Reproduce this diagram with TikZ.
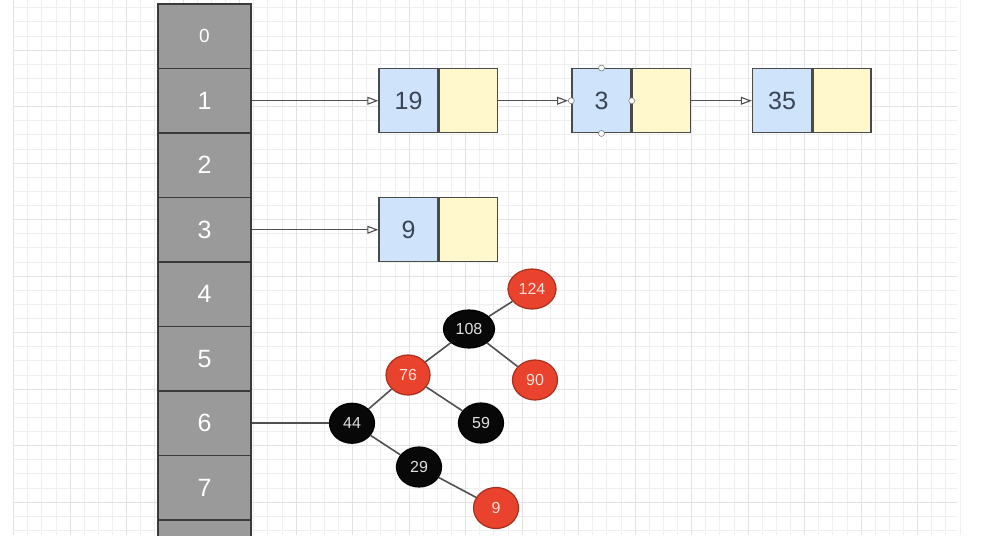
\documentclass[tikz,border=0pt]{standalone}
\usepackage{fontspec}
\setmainfont{Liberation Sans}
\usetikzlibrary{shapes.geometric,arrows.meta}
\definecolor{gridminor}{HTML}{EFEFEF}
\definecolor{gridmajor}{HTML}{E2E2E2}
\definecolor{bucketfill}{HTML}{9A9A9A}
\definecolor{bucketline}{HTML}{3A3A3A}
\definecolor{valfill}{HTML}{CFE4FB}
\definecolor{ptrfill}{HTML}{FFF8CC}
\definecolor{boxline}{HTML}{4A4A4A}
\definecolor{listtext}{HTML}{3A4454}
\definecolor{rbred}{HTML}{E9432D}
\definecolor{rbredline}{HTML}{A8301F}
\definecolor{rbredtext}{HTML}{FDE2DA}
\definecolor{rbblack}{HTML}{080808}
\definecolor{edgecol}{HTML}{505050}
\tikzset{
  bucket/.style={draw=bucketline, line width=1.4pt, fill=bucketfill, minimum width=93pt, minimum height=64.5pt, inner sep=0pt, text=white, font=\fontsize{25}{25}\selectfont},
  valbox/.style={draw=boxline, line width=1.4pt, fill=valfill, minimum width=59pt, minimum height=64pt, inner sep=0pt, text=listtext, font=\fontsize{25}{25}\selectfont},
  ptrbox/.style={draw=boxline, line width=1.4pt, fill=ptrfill, minimum width=58pt, minimum height=64pt, inner sep=0pt},
  arr/.style={draw=edgecol, line width=1.1pt, -{Triangle[open, length=11pt, width=8pt, fill=white]}},
  handle/.style={circle, draw=gray, fill=white, line width=0.6pt, minimum size=6pt, inner sep=0pt},
  rbnode/.style={ellipse, minimum width=45pt, minimum height=40pt, inner sep=0pt, line width=1.2pt, font=\fontsize{16}{16}\selectfont},
  rednode/.style={rbnode, fill=rbred, draw=rbredline, text=rbredtext},
  blacknode/.style={rbnode, fill=rbblack, draw=black, text=white!88!black},
  treeedge/.style={draw=edgecol, line width=1.6pt},
  minorline/.style={draw=gridminor, line width=0.6pt},
  majorline/.style={draw=gridmajor, line width=0.9pt}
}
\begin{document}
\begin{tikzpicture}[x=1pt,y=-1pt]
\useasboundingbox (0,0) rectangle (981,535);
\clip (0,0) rectangle (981,535);
\fill[white] (0,0) rectangle (981,535);
% grid
\foreach \k in {0,...,67} {
  \draw[minorline] ({13.5+\k*14.125},0) -- ({13.5+\k*14.125},535);
}
\foreach \k in {-3,...,34} {
  \draw[minorline] (13.5,{50+\k*14.125}) -- (957,{50+\k*14.125});
}
\foreach \k in {0,...,16} {
  \draw[majorline] ({13.5+\k*56.5},0) -- ({13.5+\k*56.5},535);
}
\foreach \k in {-1,...,8} {
  \draw[majorline] (13.5,{50+\k*56.5}) -- (957,{50+\k*56.5});
}
% buckets
\node[bucket, font=\fontsize{19}{19}\selectfont] (b0) at (204.5,36.25) {0};
\node[bucket] (b1) at (204.5,100.75) {1};
\node[bucket] (b2) at (204.5,165.25) {2};
\node[bucket] (b3) at (204.5,229.75) {3};
\node[bucket] (b4) at (204.5,294.25) {4};
\node[bucket] (b5) at (204.5,358.75) {5};
\node[bucket] (b6) at (204.5,423.25) {6};
\node[bucket] (b7) at (204.5,487.75) {7};
\node[bucket] (b8) at (204.5,552.25) {};
% list nodes
\node[valbox] (v19) at (408.5,100.75) {19};
\node[ptrbox, anchor=west] (p19) at (v19.east) {};
\node[valbox] (v3) at (601.5,100.75) {3};
\node[ptrbox, anchor=west] (p3) at (v3.east) {};
\node[valbox] (v35) at (782,100.75) {35};
\node[ptrbox, anchor=west] (p35) at (v35.east) {};
\node[valbox] (v9) at (408.5,229.75) {9};
\node[ptrbox, anchor=west] (p9) at (v9.east) {};
% handles
\node[handle] (h1) at (v3.north) {};
\node[handle] (h2) at (v3.south) {};
\node[handle] (h3) at (v3.west) {};
\node[handle] (h4) at (v3.east) {};
% arrows
\draw[arr] (b1.east) -- (v19.west);
\draw[arr] (p19.east) -- (h3.west);
\draw[arr] (p3.east) -- (v35.west);
\draw[arr] (b3.east) -- (v9.west);
% tree
\node[rednode, minimum width=48pt] (t124) at (532,289) {124};
\node[blacknode, minimum width=51pt, minimum height=38pt] (t108) at (469,329) {108};
\node[rednode, minimum width=44pt] (t76) at (408,375) {76};
\node[rednode] (t90) at (535,380) {90};
\node[blacknode] (t44) at (352,423.25) {44};
\node[blacknode] (t59) at (481,423) {59};
\node[blacknode] (t29) at (419,467) {29};
\node[rednode, minimum height=41pt] (t9) at (496,508) {9};
\draw[treeedge] (b6.east) -- (t44.west);
\draw[treeedge] (t108) -- (t124);
\draw[treeedge] (t108) -- (t76);
\draw[treeedge] (t108) -- (t90);
\draw[treeedge] (t76) -- (t44);
\draw[treeedge] (t76) -- (t59);
\draw[treeedge] (t44) -- (t29);
\draw[treeedge] (t29) -- (t9);
\end{tikzpicture}
\end{document}
